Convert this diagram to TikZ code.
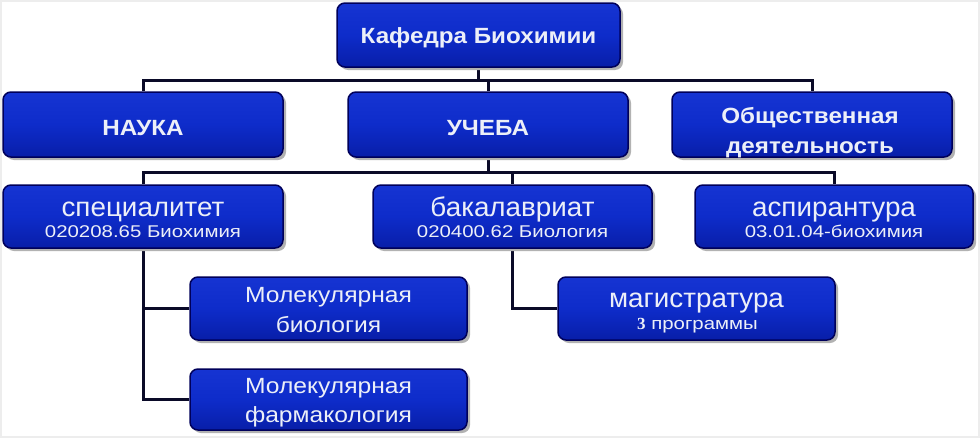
\documentclass[tikz,border=0pt]{standalone}
\usepackage{fontspec}
\setmainfont{Liberation Sans}
\newfontfamily\bfam[FakeStretch=1.1]{Liberation Sans Bold}
\newfontfamily\rfam[FakeStretch=1.03]{Liberation Sans}
\newfontfamily\mfam[FakeStretch=1.12]{Liberation Sans}
\newfontfamily\subfam[FakeStretch=1.2]{Liberation Sans}
\newfontfamily\numfam{Liberation Serif Bold}
\usetikzlibrary{shadows,backgrounds}
\definecolor{boxtop}{RGB}{22,52,210}
\definecolor{boxmid}{RGB}{14,44,202}
\definecolor{boxbot}{RGB}{8,30,168}
\definecolor{boxline}{RGB}{0,0,90}
\definecolor{linecol}{RGB}{10,10,40}
\definecolor{txtcol}{RGB}{236,239,248}
\begin{document}
\begin{tikzpicture}[x=1pt,y=-1pt,
  box/.style={draw=boxline, line width=1.5pt, rounded corners=8pt,
    top color=boxtop, bottom color=boxbot, middle color=boxmid,
    inner sep=0pt,
    drop shadow={shadow xshift=3pt, shadow yshift=-3pt, fill=gray!60, opacity=1}},
  conn/.style={draw=linecol, line width=3pt},
  boldtxt/.style={text=txtcol, inner sep=0pt, anchor=base, font=\bfam\fontsize{22}{26}\selectfont},
  bigtxt/.style={text=txtcol, inner sep=0pt, anchor=base, font=\rfam\fontsize{27}{30}\selectfont},
  subtxt/.style={text=txtcol, inner sep=0pt, anchor=base, font=\subfam\fontsize{17}{20}\selectfont},
  moltxt/.style={text=txtcol, inner sep=0pt, anchor=base, font=\mfam\fontsize{22}{26}\selectfont}]
\useasboundingbox (0,0) rectangle (980,439);

% boxes
\node[box, minimum width=283pt, minimum height=64pt] (kaf) at (478.5,35) {};
\node[box, minimum width=280pt, minimum height=65pt] (nauka) at (143,124.5) {};
\node[box, minimum width=280pt, minimum height=65pt] (ucheba) at (488,124.5) {};
\node[box, minimum width=280pt, minimum height=65pt] (obsch) at (812,124.5) {};
\node[box, minimum width=280pt, minimum height=63pt] (spec) at (143,216.5) {};
\node[box, minimum width=279pt, minimum height=63pt] (bak) at (512.5,216.5) {};
\node[box, minimum width=278pt, minimum height=63pt] (asp) at (834,216.5) {};
\node[box, minimum width=277pt, minimum height=63pt] (molbio) at (328.5,308.5) {};
\node[box, minimum width=277pt, minimum height=61pt] (molfarm) at (328.5,399.5) {};
\node[box, minimum width=277pt, minimum height=63pt] (magis) at (696.5,308.5) {};

% texts
\node[boldtxt] (kafT) at (478.5,43) {Кафедра Биохимии};
\node[boldtxt] (naukaT) at (143,135) {НАУКА};
\node[boldtxt] (uchebaT) at (488,135) {УЧЕБА};
\node[boldtxt] (obschTa) at (810,123) {Общественная};
\node[boldtxt] (obschTb) at (810,153) {деятельность};
\node[bigtxt] (specTa) at (143,216) {специалитет};
\node[subtxt] (specTb) at (143,237) {020208.65 Биохимия};
\node[bigtxt] (bakTa) at (512.5,216) {бакалавриат};
\node[subtxt] (bakTb) at (512.5,237) {020400.62 Биология};
\node[bigtxt] (aspTa) at (834,216) {аспирантура};
\node[subtxt] (aspTb) at (834,237) {03.01.04-биохимия};
\node[moltxt] (molbioTa) at (328.5,302) {Молекулярная};
\node[moltxt] (molbioTb) at (328.5,332) {биология};
\node[moltxt] (molfarmTa) at (328.5,393) {Молекулярная};
\node[moltxt] (molfarmTb) at (328.5,422) {фармакология};
\node[bigtxt] (magisTa) at (696.5,307) {магистратура};
\node[subtxt] (magisTb) at (697.5,329) {{\numfam 3} программы};

\coordinate (busA) at (0,80);
\coordinate (busB) at (0,172);

\begin{pgfonlayer}{background}
  \fill[white] (0,0) rectangle (980,439);
  \draw[gray!14, line width=2pt] (1,1) rectangle (978.5,436.5);
  \draw[conn] (kaf.south) -- (kaf.south |- busA);
  \draw[conn] (nauka.north) |- (obsch.north |- busA) -- (obsch.north);
  \draw[conn] (ucheba.north) -- (ucheba.north |- busA);
  \draw[conn] (ucheba.south) -- (ucheba.south |- busB);
  \draw[conn] (spec.north) |- (asp.north |- busB) -- (asp.north);
  \draw[conn] (bak.north) -- (bak.north |- busB);
  \draw[conn] (spec.south) |- (molfarm.west);
  \draw[conn] (molbio.west) -- (molbio.west -| spec.south);
  \draw[conn] (bak.south) |- (magis.west);
\end{pgfonlayer}
\end{tikzpicture}
\end{document}
